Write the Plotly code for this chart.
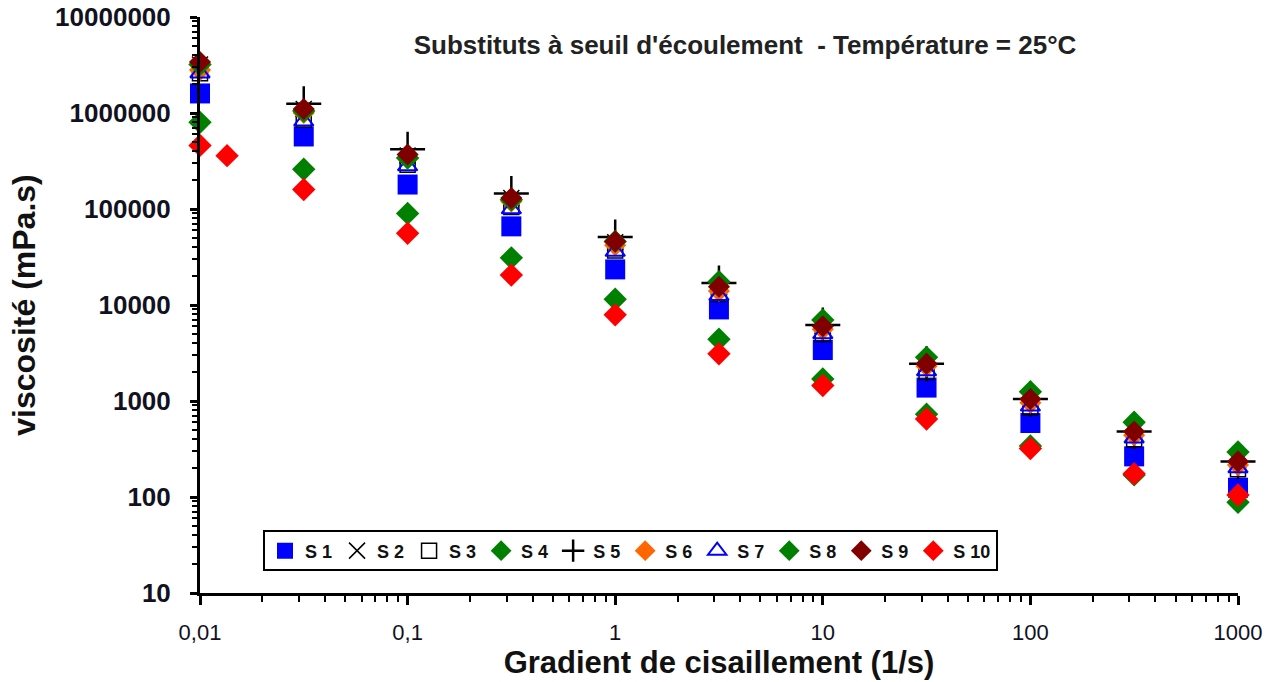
import plotly.graph_objects as go

# Shear rates (1/s)
shear = [0.01, 0.0316, 0.1, 0.316, 1, 3.16, 10, 31.6, 100, 316, 1000]
shear_s5 = [0.0316, 0.1, 0.316, 1, 3.16, 10, 31.6, 100, 316, 1000]
shear_s10 = [0.01, 0.0135, 0.0316, 0.1, 0.316, 1, 3.16, 10, 31.6, 100, 316, 1000]

# Viscosity (mPa.s)
s1 = [1.6e6, 5.7e5, 1.8e5, 6.6e4, 2.35e4, 9.0e3, 3.4e3, 1.38e3, 5.9e2, 2.65e2, 1.25e2]
s2 = [3.2e6, 1.1e6, 3.6e5, 1.3e5, 4.5e4, 1.55e4, 6.0e3, 2.4e3, 1.03e3, 4.7e2, 2.3e2]
s3 = [2.6e6, 8.5e5, 2.9e5, 1.05e5, 3.7e4, 1.3e4, 5.0e3, 2.0e3, 8.6e2, 4.0e2, 1.95e2]
s4 = [8.0e5, 2.6e5, 9.0e4, 3.1e4, 1.15e4, 4.4e3, 1.7e3, 7.3e2, 3.4e2, 1.7e2, 8.8e1]
s5 = [1.25e6, 4.2e5, 1.45e5, 5.1e4, 1.7e4, 6.2e3, 2.45e3, 1.05e3, 4.8e2, 2.35e2]
s6 = [2.8e6, 1.0e6, 3.4e5, 1.2e5, 4.2e4, 1.4e4, 5.6e3, 2.3e3, 9.6e2, 4.4e2, 2.15e2]
s7 = [2.6e6, 8.2e5, 2.8e5, 1.0e5, 3.6e4, 1.25e4, 5.0e3, 2.05e3, 8.8e2, 4.1e2, 2.0e2]
s8 = [3.2e6, 1.05e6, 3.4e5, 1.25e5, 4.6e4, 1.75e4, 7.0e3, 2.85e3, 1.25e3, 6.0e2, 2.95e2]
s9 = [3.4e6, 1.1e6, 3.7e5, 1.3e5, 4.6e4, 1.55e4, 6.0e3, 2.45e3, 1.05e3, 4.8e2, 2.35e2]
s10 = [4.6e5, 3.6e5, 1.6e5, 5.6e4, 2.05e4, 7.9e3, 3.1e3, 1.45e3, 6.5e2, 3.2e2, 1.75e2, 1.05e2]

x_tickvals = [0.01, 0.1, 1, 10, 100, 1000]
x_ticktext = ["0,01", "0,1", "1", "10", "100", "1000"]
y_tickvals = [10, 100, 1000, 10000, 100000, 1000000, 10000000]
y_ticktext = ["10", "100", "1000", "10000", "100000", "1000000", "10000000"]

FONT = "Arial, Liberation Sans, sans-serif"

series = [
    ("S 1", shear, s1, dict(symbol="square", size=20, color="#0000FF")),
    ("S 2", shear, s2, dict(symbol="x-thin-open", size=16, color="black", line=dict(color="black", width=1.5))),
    ("S 3", shear, s3, dict(symbol="square-open", size=15, color="black", line=dict(color="black", width=1.5))),
    ("S 4", shear, s4, dict(symbol="diamond", size=18, color="#008000")),
    ("S 5", shear_s5, s5, dict(symbol="cross-thin-open", size=25, color="black", line=dict(color="black", width=2.5))),
    ("S 6", shear, s6, dict(symbol="diamond", size=17, color="#FF6600")),
    ("S 7", shear, s7, dict(symbol="triangle-up-open", size=17, color="#0000FF", line=dict(color="#0000FF", width=2))),
    ("S 8", shear, s8, dict(symbol="diamond", size=18, color="#008000")),
    ("S 9", shear, s9, dict(symbol="diamond", size=17, color="#800000")),
    ("S 10", shear_s10, s10, dict(symbol="diamond", size=18, color="#FF0000")),
]

fig = go.Figure()
for name, xs, ys, mk in series:
    fig.add_trace(go.Scatter(x=xs, y=ys, mode="markers", name=name, marker=mk, cliponaxis=False))

fig.update_layout(
    width=1280, height=682,
    paper_bgcolor="white", plot_bgcolor="white",
    margin=dict(l=200, r=42, t=17, b=89),
    font=dict(family=FONT, color="#111111"),
    title=dict(
        text="<b>Substituts à seuil d'écoulement  - Température = 25°C</b>",
        x=745/1280, xanchor="center", y=1-45/682, yanchor="middle",
        font=dict(size=26, family=FONT, color="#222222"),
    ),
    showlegend=True,
    legend=dict(
        orientation="h", x=0.0607, y=0.1086, xanchor="left", yanchor="top",
        bgcolor="white", bordercolor="black", borderwidth=2,
        font=dict(size=18, family=FONT, color="#111111", weight="bold"),
        itemwidth=30, tracegroupgap=0,
    ),
    xaxis=dict(
        type="log", range=[-2, 3], automargin=False,
        showline=True, linewidth=3, linecolor="black", mirror=False,
        showgrid=False, zeroline=False,
        ticks="outside", ticklen=9, tickwidth=2.5, tickcolor="black",
        tickmode="array", tickvals=x_tickvals, ticktext=x_ticktext,
        tickfont=dict(size=22, family=FONT, color="#111122"),
        ticklabelstandoff=9, ticklabeloverflow="allow",
        minor=dict(ticks="outside", ticklen=6, tickwidth=2, tickcolor="black", dtick="D1", showgrid=False),
        title=dict(text="<b>Gradient de cisaillement (1/s)</b>", font=dict(size=31, family=FONT, color="#111111"), standoff=7),
    ),
    yaxis=dict(
        type="log", range=[1, 7.0005], automargin=False,
        showline=True, linewidth=3, linecolor="black", mirror=False,
        showgrid=False, zeroline=False,
        ticks="outside", ticklen=7, tickwidth=2.5, tickcolor="black",
        tickmode="array", tickvals=y_tickvals, ticktext=y_ticktext,
        tickfont=dict(size=26, family=FONT, color="#111122", weight="bold"),
        ticklabelstandoff=14, ticklabeloverflow="allow",
        minor=dict(ticks="outside", ticklen=5, tickwidth=2, tickcolor="black", dtick="D1", showgrid=False),
        title=dict(text="<b>viscosité (mPa.s)</b>", font=dict(size=32, family=FONT, color="#111111"), standoff=10),
    ),
)

fig.write_html("out.html")
